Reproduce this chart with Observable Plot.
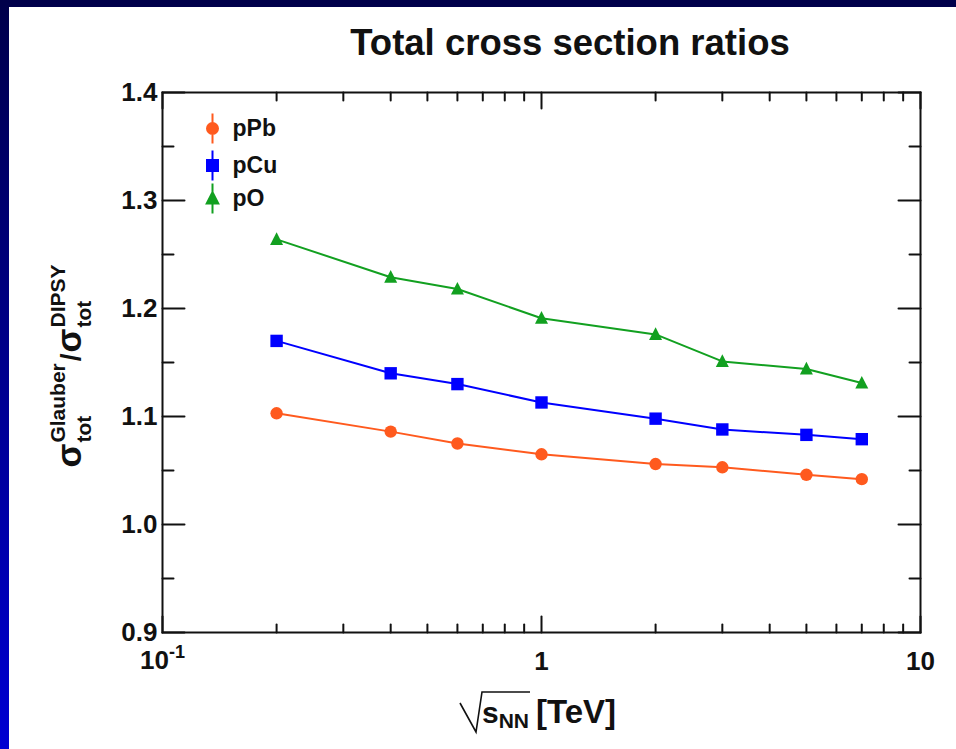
<!DOCTYPE html>
<html><head><meta charset="utf-8">
<script src="https://cdn.jsdelivr.net/npm/d3@7"></script>
<script src="https://cdn.jsdelivr.net/npm/@observablehq/plot@0.6"></script>
<style>
html,body{margin:0;padding:0;}
body{width:956px;height:749px;overflow:hidden;position:relative;background:linear-gradient(to bottom,#00004a 0%,#0000d2 100%);font-family:'Liberation Sans',Arial,Helvetica,sans-serif;}
#panel{position:absolute;left:9px;top:7px;width:947px;height:742px;background:#fff;}
#chart{position:absolute;left:0;top:0;}
#title{position:absolute;left:561px;top:17.5px;transform:translateX(-50%);white-space:nowrap;font-size:36.5px;line-height:36px;font-weight:bold;color:#111;}
</style></head><body>
<div id="panel"><div id="chart"></div><div id="title">Total cross section ratios</div></div>
<script>
// ---- data ----
const energies = [0.2, 0.4, 0.6, 1, 2, 3, 5, 7];
const pPb = [1.103, 1.086, 1.075, 1.065, 1.056, 1.053, 1.046, 1.042];
const pCu = [1.170, 1.140, 1.130, 1.113, 1.098, 1.088, 1.083, 1.079];
const pO  = [1.264, 1.229, 1.218, 1.191, 1.176, 1.151, 1.144, 1.131];
const seriesNames  = ["pPb", "pCu", "pO"];
const seriesColors = ["#ff5a1e", "#0000ff", "#12a020"];
const seriesShapes = ["circle", "square", "triangle"];
const yMajor = [0.9, 1.0, 1.1, 1.2, 1.3, 1.4];
const yMinor = [0.95, 1.05, 1.15, 1.25, 1.35];
const xMajor = [0.1, 1, 10];
const xMinor = [0.2, 0.3, 0.4, 0.5, 0.6, 0.7, 0.8, 0.9, 2, 3, 4, 5, 6, 7, 8, 9];
const xLabelTicks = [1, 10];
const legendOffsets = [36, 73, 106];

const FONT = "'Liberation Sans', Arial, Helvetica, sans-serif";
const INK = "#111";
const seriesValues = {pPb, pCu, pO};
const rows = seriesNames.flatMap((s) => energies.map((e, i) => ({series: s, x: e, y: seriesValues[s][i]})));

function markerShape(kind, bar) {
  return {draw(ctx, size) {
    const r = Math.sqrt(size / Math.PI);
    if (kind === "circle") { ctx.moveTo(r, 0); ctx.arc(0, 0, r, 0, 2 * Math.PI); }
    else if (kind === "square") { ctx.moveTo(-r, -r); ctx.lineTo(r, -r); ctx.lineTo(r, r); ctx.lineTo(-r, r); ctx.closePath(); }
    else { const h = r * 1.15; ctx.moveTo(0, -h); ctx.lineTo(r * 1.05, h * 0.78); ctx.lineTo(-r * 1.05, h * 0.78); ctx.closePath(); }
    if (bar) { ctx.moveTo(0, -bar); ctx.lineTo(0, bar); }
  }};
}
const tickShape = {draw(ctx, l) { ctx.moveTo(0, 0); ctx.lineTo(0, -l); }};
const tickOpts = {stroke: INK, strokeWidth: 2, anchor: "start", shape: tickShape};

const marks = [
  // inner ticks on all four sides
  Plot.vectorX(xMajor, {...tickOpts, frameAnchor: "bottom", rotate: 0, length: 16}),
  Plot.vectorX(xMinor, {...tickOpts, frameAnchor: "bottom", rotate: 0, length: 8}),
  Plot.vectorX(xMajor, {...tickOpts, frameAnchor: "top", rotate: 180, length: 16}),
  Plot.vectorX(xMinor, {...tickOpts, frameAnchor: "top", rotate: 180, length: 8}),
  Plot.vectorY(yMajor, {...tickOpts, frameAnchor: "left", rotate: 90, length: 22}),
  Plot.vectorY(yMinor, {...tickOpts, frameAnchor: "left", rotate: 90, length: 11}),
  Plot.vectorY(yMajor, {...tickOpts, frameAnchor: "right", rotate: -90, length: 22}),
  Plot.vectorY(yMinor, {...tickOpts, frameAnchor: "right", rotate: -90, length: 11}),
  Plot.frame({stroke: INK, strokeWidth: 2}),
  Plot.axisY(yMajor, {anchor: "left", tickSize: 0, tickPadding: 5, tickFormat: d3.format(".1f"), fontSize: 26, fontWeight: "bold", label: null}),
  Plot.axisX(xLabelTicks, {anchor: "bottom", tickSize: 0, tickPadding: 19, tickFormat: (d) => String(d), fontSize: 26, fontWeight: "bold", label: null})
];
seriesNames.forEach((s, i) => {
  const data = rows.filter((d) => d.series === s);
  marks.push(Plot.line(data, {x: "x", y: "y", stroke: seriesColors[i], strokeWidth: 2}));
  marks.push(Plot.dot(data, {x: "x", y: "y", symbol: markerShape(seriesShapes[i], 0), r: 6.2, fill: seriesColors[i], stroke: "none"}));
  marks.push(Plot.dot([s], {x: null, y: null, frameAnchor: "top-left", dx: 50, dy: legendOffsets[i], symbol: markerShape(seriesShapes[i], 15), r: 5.5, fill: seriesColors[i], stroke: seriesColors[i], strokeWidth: 2}));
  marks.push(Plot.text([s], {x: null, y: null, frameAnchor: "top-left", lineAnchor: "middle", dx: 70, dy: legendOffsets[i], text: (d) => d, textAnchor: "start", fontSize: 23, fontWeight: "bold", fill: INK}));
});

const plot = Plot.plot({
  width: 947, height: 742,
  marginLeft: 153, marginRight: 36, marginTop: 85, marginBottom: 117,
  x: {type: "log", domain: [0.1, 10]},
  y: {domain: [0.9, 1.4]},
  style: {fontFamily: FONT, background: "white", color: INK, overflow: "visible"},
  marks
});
document.getElementById("chart").append(plot);

const svg = d3.select(plot);
const sx = plot.scale("x");
const x01 = sx && sx.apply ? sx.apply(0.1) : 153;

// 10^-1 tick label
const t01 = svg.append("text").attr("font-family", FONT).attr("font-weight", "bold").attr("fill", INK)
  .attr("text-anchor", "start").attr("font-size", 26).attr("x", x01 - 22).attr("y", 662);
t01.append("tspan").text("10");
t01.append("tspan").attr("font-size", 18).attr("dy", -11).text("-1");

// y-axis title (rotated)
const yt = svg.append("g").attr("transform", "translate(71,359) rotate(-90)")
  .attr("font-family", FONT).attr("font-weight", "bold").attr("fill", INK).attr("text-anchor", "start");
const inner = yt.append("g");
let cx = 0;
const put = (txt, size, dy, x) => inner.append("text").attr("x", x).attr("y", dy).attr("font-size", size).text(txt).node().getComputedTextLength();
cx += put("σ", 35, 1, cx);
let w1 = put("Glauber", 21, -15, cx + 1), w2 = put("tot", 21, 11, cx + 1);
cx += Math.max(w1, w2) + 3;
cx += put("/", 28, 0, cx) + 1;
cx += put("σ", 35, 1, cx);
w1 = put("DIPSY", 21, -15, cx + 1); w2 = put("tot", 21, 11, cx + 1);
cx += Math.max(w1, w2) + 1;
inner.attr("transform", `translate(${-cx / 2},0)`);

// x-axis title: sqrt(s_NN) [TeV]
const xt = svg.append("g").attr("font-family", FONT).attr("font-weight", "bold").attr("fill", INK).attr("text-anchor", "start");
let px = 473;
const sEl = xt.append("text").attr("x", px).attr("y", 716).attr("font-size", 30).text("s");
px += sEl.node().getComputedTextLength();
const nnEl = xt.append("text").attr("x", px).attr("y", 721).attr("font-size", 21).text("NN");
px += nnEl.node().getComputedTextLength();
xt.append("path").attr("fill", "none").attr("stroke", INK).attr("stroke-width", 1.6)
  .attr("d", `M451,696 L467,725 L473,685 H${px + 1}`);
xt.append("text").attr("x", px + 7).attr("y", 716).attr("font-size", 33).text("[TeV]");
</script></body></html>
